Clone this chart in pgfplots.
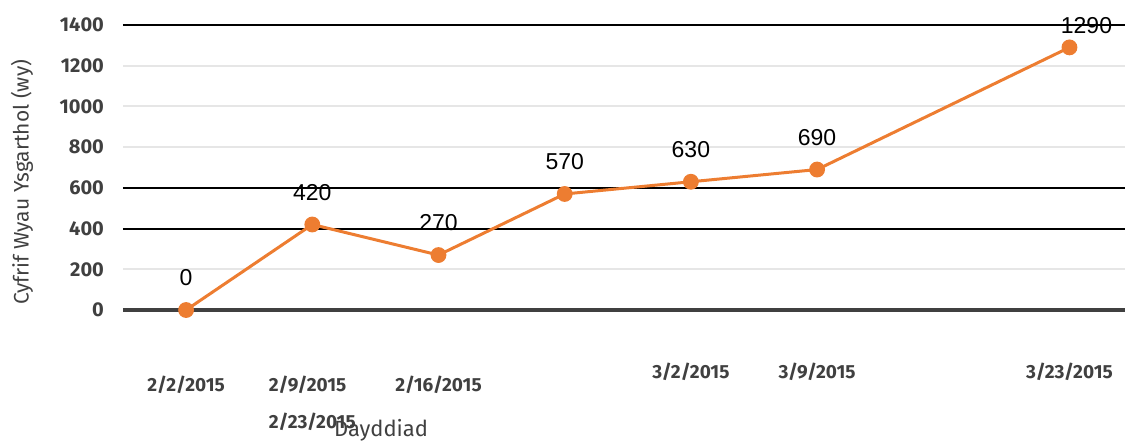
\documentclass[border=0pt]{standalone}
\usepackage{pgfplots}
\pgfplotsset{compat=1.18}
\usepackage{fontspec}
\setmainfont{Fira Sans}
\newfontfamily\datafont{Liberation Sans}
\definecolor{tickgray}{HTML}{404040}
\definecolor{gridgray}{HTML}{E6E6E6}
\definecolor{lineorange}{HTML}{ED7D31}
\begin{document}
\begin{tikzpicture}
\begin{axis}[
  name=ax,
  scale only axis,
  width=501pt, height=142.5pt,
  xmin=-0.5, xmax=7.44,
  ymin=0, ymax=1400,
  clip=false,
  axis line style={draw=none},
  major tick length=0pt,
  ytick={0,200,...,1400},
  ymajorgrids,
  major grid style={gridgray, line width=1pt},
  extra y ticks={400,600,1400},
  extra y tick labels={},
  extra y tick style={major grid style={black, line width=1pt}},
  /pgf/number format/assume math mode=true,
  /pgf/number format/1000 sep={},
  yticklabel style={font=\bfseries\fontsize{10}{12}\selectfont, text=tickgray, anchor=east, xshift=-6pt},
  xtick={0,1,2},
  xticklabels={2/2/2015, {2/9/2015\\[7.2pt]2/23/2015}, 2/16/2015},
  xticklabel style={font=\bfseries\fontsize{9.5}{11.4}\selectfont, text=tickgray, anchor=north, align=left, yshift=-29.5pt},
  extra x ticks={4,5,7},
  extra x tick labels={3/2/2015, 3/9/2015, 3/23/2015},
  extra x tick style={xticklabel style={yshift=6.5pt}},
  xlabel={Dayddiad},
  xlabel style={at={(axis description cs:0.2575,-0.421)}, anchor=center, font=\fontsize{11}{13}\selectfont, text=tickgray},
  ylabel={Cyfrif Wyau Ysgarthol (wy)},
  ylabel style={at={(axis description cs:-0.1008,0.449)}, anchor=center, rotate=0, font=\fontsize{10.5}{12.5}\selectfont, text=tickgray},
  nodes near coords,
  every node near coord/.append style={anchor=center, yshift=16pt, font=\datafont\fontsize{11.5}{13}\selectfont, text=black},
  coordinate style/.condition={x==7}{xshift=8.5pt, yshift=-5pt},
]
\draw[tickgray, line width=2pt] (rel axis cs:0,0) -- (rel axis cs:1,0);
\addplot[lineorange, line width=1.5pt, mark=*, mark size=3.2pt, mark options={fill=lineorange, draw=lineorange}]
  coordinates {(0,0) (1,420) (2,270) (3,570) (4,630) (5,690) (7,1290)};
\coordinate (bl) at (rel axis cs:0,0);
\coordinate (tr) at (rel axis cs:1,1);
\end{axis}
\path (bl) ++(-61.5pt,-65.5pt) coordinate (a);
\path (tr) ++(1pt,12.5pt) coordinate (b);
\pgfresetboundingbox
\path (a) rectangle (b);
\end{tikzpicture}
\end{document}
